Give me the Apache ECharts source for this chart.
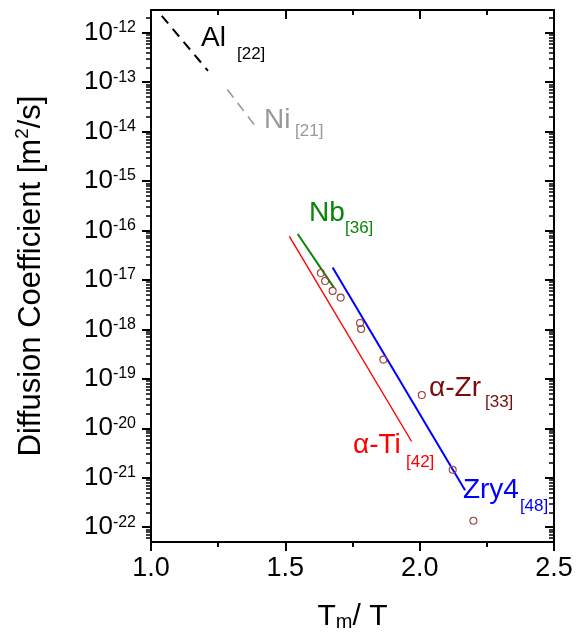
<!DOCTYPE html>
<html>
<head>
<meta charset="utf-8">
<script src="https://cdn.jsdelivr.net/npm/echarts@6.0.0/dist/echarts.min.js"></script>
<style>
  html, body { margin: 0; padding: 0; background: #fff; }
  #main { width: 576px; height: 637px; }
</style>
</head>
<body>
<div id="main"></div>
<script>
// Tm/T and D [m^2/s]
var alX = [1.04, 1.212];
var alD = [2.2e-12, 1.7e-13];
var niX = [1.284, 1.39];
var niD = [7.1e-14, 1.26e-14];
var nbX = [1.546, 1.681];
var nbD = [8.5e-17, 7.0e-18];
var tiX = [1.515, 1.97];
var tiD = [7.6e-17, 5.4e-21];
var zryX = [1.676, 2.169];
var zryD = [1.78e-17, 5.6e-22];
// alpha-Zr measured points
var zrX = [1.632, 1.648, 1.676, 1.706, 1.778, 1.782, 1.865, 2.008, 2.123, 2.2];
var zrD = [1.38e-17, 9.5e-18, 6.0e-18, 4.4e-18, 1.35e-18, 1.02e-18, 2.45e-19, 4.7e-20, 1.45e-21, 1.35e-22];

// annotation text: [x, log10 D, text, kind, colour]
var labels = [
  [1.186, -12.11, 'Al', 'big', '#000000'],
  [1.320, -12.44, '[22]', 'sub', '#000000'],
  [1.421, -13.77, 'Ni', 'big', '#999999'],
  [1.536, -13.99, '[21]', 'sub', '#999999'],
  [1.588, -15.66, 'Nb', 'big', '#0a850a'],
  [1.722, -15.96, '[36]', 'sub', '#0a850a'],
  [2.035, -19.20, 'α-Zr', 'big', '#7a0c0c'],
  [2.243, -19.48, '[33]', 'sub', '#7a0c0c'],
  [1.752, -20.35, 'α-Ti', 'big', '#ff0000'],
  [1.949, -20.68, '[42]', 'sub', '#ff0000'],
  [2.161, -21.26, 'Zry4', 'big', '#0000ff'],
  [2.373, -21.57, '[48]', 'sub', '#0000ff']
];

var decades = [-22, -21, -20, -19, -18, -17, -16, -15, -14, -13, -12];

var yMin = -22.3, yMax = -11.54;
var FONT = '"Liberation Sans", Arial, Helvetica, sans-serif';

function toPts(xs, ds) {
  var out = [];
  for (var i = 0; i < xs.length; i++) {
    out.push([xs[i], Math.log10(ds[i])]);
  }
  return out;
}

var minors = [];
for (var n = -23; n <= -12; n++) {
  for (var k = 2; k <= 9; k++) {
    var v = n + Math.log10(k);
    if (v > yMin && v < yMax) minors.push(v);
  }
}

var myChart = echarts.init(document.getElementById('main'));

function lineSerie(xs, ds, color, type, width) {
  return {
    type: 'line',
    data: toPts(xs, ds),
    symbol: 'none',
    silent: true,
    lineStyle: { color: color, width: width, type: type, opacity: 1 },
    z: 3
  };
}

function yAx(position, ticks, len, inside, withLabel) {
  return {
    type: 'value',
    position: position,
    min: yMin,
    max: yMax,
    axisLine: { show: true, lineStyle: { color: '#000', width: 2 } },
    splitLine: { show: false },
    axisTick: {
      show: true, inside: inside, length: len, customValues: ticks,
      lineStyle: { color: '#000', width: len > 6 ? 2 : 1.5 }
    },
    axisLabel: withLabel ? {
      show: true,
      customValues: decades,
      margin: 15,
      formatter: function (val) {
        return '{b|10}{s|' + Math.round(val) + '}';
      },
      rich: {
        b: { fontSize: 26, lineHeight: 26, verticalAlign: 'bottom', fontFamily: FONT, color: '#000' },
        s: { fontSize: 16, lineHeight: 16, verticalAlign: 'top', padding: [0, 0, 19, 0], fontFamily: FONT, color: '#000' }
      }
    } : { show: false }
  };
}

var yLeft = yAx('left', decades, 9, false, true);
yLeft.name = '{t|Diffusion Coefficient [m}{u|2}{t|/s]}';
yLeft.nameLocation = 'middle';
yLeft.nameGap = 104;
yLeft.nameRotate = 90;
yLeft.nameTextStyle = {
  rich: {
    t: { fontSize: 31, lineHeight: 34, verticalAlign: 'bottom', fontFamily: FONT, color: '#000' },
    u: { fontSize: 19, lineHeight: 19, verticalAlign: 'top', padding: [0, 0, 12, 0], fontFamily: FONT, color: '#000' }
  }
};

var series = [
  lineSerie(alX, alD, '#000000', [10, 7], 2),
  lineSerie(niX, niD, '#999999', [10, 7], 1.6),
  lineSerie(nbX, nbD, '#0a850a', 'solid', 2),
  lineSerie(tiX, tiD, '#ff0000', 'solid', 1.4),
  lineSerie(zryX, zryD, '#0000ff', 'solid', 2),
  {
    type: 'scatter',
    data: toPts(zrX, zrD),
    symbol: 'circle',
    symbolSize: 7,
    silent: true,
    itemStyle: { color: 'rgba(255,255,255,0)', borderColor: '#9c4040', borderWidth: 1.1, opacity: 1 },
    z: 4
  }
];

for (var i = 0; i < labels.length; i++) {
  var L = labels[i];
  series.push({
    type: 'scatter',
    data: [[L[0], L[1]]],
    symbolSize: 0,
    silent: true,
    z: 5,
    itemStyle: { opacity: 1 },
    label: {
      show: true,
      position: [0, 0],
      align: 'left',
      verticalAlign: 'middle',
      formatter: L[2],
      fontFamily: FONT,
      fontSize: L[3] === 'big' ? 28 : 17,
      color: L[4],
      opacity: 1
    }
  });
}

var option = {
  backgroundColor: '#fff',
  animation: false,
  grid: { left: 151, right: 22, top: 10, bottom: 92 },
  xAxis: [
    {
      type: 'value',
      position: 'bottom',
      min: 1, max: 2.5, interval: 0.5,
      axisLine: { show: true, lineStyle: { color: '#000', width: 2 } },
      splitLine: { show: false },
      axisTick: { show: true, inside: false, length: 9, lineStyle: { color: '#000', width: 2 } },
      minorTick: { show: true, splitNumber: 2, length: 5, lineStyle: { color: '#000', width: 2 } },
      axisLabel: {
        show: true, margin: 13, fontSize: 27, fontFamily: FONT, color: '#000',
        formatter: function (v) { return v.toFixed(1); }
      },
      name: '{t|T}{m|m}{t|/ T}',
      nameLocation: 'middle',
      nameGap: 60,
      nameTextStyle: {
        rich: {
          t: { fontSize: 30, lineHeight: 30, verticalAlign: 'top', fontFamily: FONT, color: '#000' },
          m: { fontSize: 20, lineHeight: 20, verticalAlign: 'bottom', padding: [20, 0, 0, 0], fontFamily: FONT, color: '#000' }
        }
      }
    },
    {
      type: 'value',
      position: 'top',
      min: 1, max: 2.5, interval: 0.5,
      axisLine: { show: true, lineStyle: { color: '#000', width: 2 } },
      splitLine: { show: false },
      axisTick: { show: true, inside: true, length: 9, lineStyle: { color: '#000', width: 2 } },
      minorTick: { show: true, splitNumber: 2, length: 5, lineStyle: { color: '#000', width: 2 } },
      axisLabel: { show: false }
    }
  ],
  yAxis: [
    yLeft,
    yAx('left', minors, 5, false, false),
    yAx('right', decades, 9, true, false),
    yAx('right', minors, 5, true, false)
  ],
  series: series
};

myChart.setOption(option);
</script>
</body>
</html>
